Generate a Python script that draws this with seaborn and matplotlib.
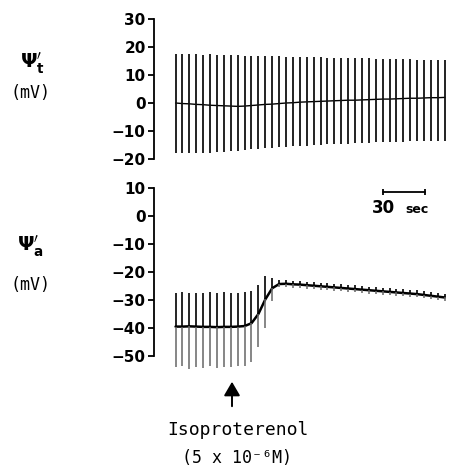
import numpy as np
import pandas as pd
import matplotlib
matplotlib.use("Agg")
import matplotlib.pyplot as plt
import seaborn as sns

# ---------------- data ----------------
n_beats = 40
beat_start_s = 15.4     # time of first beat (s)
beat_interval_s = 4.93  # time between beats (s)

# Psi_t trace (mV)
top_base = [0.0, -0.2, -0.3, -0.5, -0.6, -0.8, -0.9, -1.0, -1.1, -1.2,
            -1.1, -0.9, -0.7, -0.5, -0.4, -0.2, 0.0, 0.1, 0.3, 0.4,
            0.5, 0.6, 0.7, 0.8, 0.9, 1.0, 1.0, 1.1, 1.2, 1.3,
            1.4, 1.4, 1.5, 1.6, 1.7, 1.7, 1.8, 1.9, 1.9, 2.0]
top_peak = [17.5, 17.6, 17.4, 17.5, 17.3, 17.4, 17.2, 17.2, 17.0, 17.1,
            16.9, 16.9, 16.8, 16.8, 16.7, 16.7, 16.6, 16.5, 16.5, 16.4,
            16.3, 16.3, 16.2, 16.2, 16.1, 16.0, 16.0, 15.9, 15.9, 15.8,
            15.8, 15.7, 15.7, 15.6, 15.6, 15.5, 15.5, 15.4, 15.4, 15.3]
top_trough = [-18.0, -18.0, -17.9, -17.8, -17.7, -17.7, -17.6, -17.5, -17.3, -17.0,
              -16.8, -16.6, -16.4, -16.2, -16.0, -15.8, -15.6, -15.5, -15.3, -15.2,
              -15.0, -14.9, -14.8, -14.7, -14.6, -14.5, -14.4, -14.3, -14.2, -14.1,
              -14.0, -13.9, -13.9, -13.8, -13.7, -13.7, -13.6, -13.6, -13.5, -13.5]

# Psi_a trace (mV)
bot_base = [-39.5, -39.5, -39.4, -39.5, -39.6, -39.6, -39.7, -39.6, -39.6, -39.5,
            -39.3, -38.3, -35.0, -29.8, -25.8,
            -24.3, -24.2, -24.4, -24.5, -24.7, -24.9, -25.1, -25.3, -25.5, -25.7,
            -25.9, -26.1, -26.3, -26.5, -26.7, -26.9, -27.1, -27.3, -27.5, -27.7,
            -27.9, -28.2, -28.5, -28.8, -29.1]
bot_peak = [-27.5, -27.3, -27.6, -27.4, -27.5, -27.2, -27.6, -27.3, -27.5, -27.4,
            -27.2, -26.8, -24.5, -21.5, -22.0,
            -23.0, -22.9, -23.1, -23.2, -23.4, -23.6, -23.8, -24.0, -24.2, -24.4,
            -24.6, -24.8, -25.0, -25.2, -25.4, -25.6, -25.8, -26.0, -26.2, -26.4,
            -26.6, -26.9, -27.2, -27.5, -27.8]
bot_trough = [-54.0, -53.5, -54.5, -53.8, -54.2, -53.6, -54.4, -53.9, -54.1, -53.7,
              -53.5, -52.0, -46.8, -40.0, -30.5,
              -25.5, -25.4, -25.6, -25.7, -25.9, -26.1, -26.3, -26.5, -26.7, -26.9,
              -27.1, -27.3, -27.5, -27.7, -27.9, -28.1, -28.3, -28.5, -28.7, -28.9,
              -29.1, -29.4, -29.7, -30.0, -30.3]

top_ticks = [30, 20, 10, 0, -10, -20]
bot_ticks = [10, 0, -10, -20, -30, -40, -50]
scale_bar_s = [163.6, 193.6]

# ---------------- figure ----------------
sns.set_theme(style="white")
plt.rcParams["font.family"] = ["DejaVu Sans"]
plt.rcParams["axes.linewidth"] = 1.3

W, H = 450, 469
fig = plt.figure(figsize=(W / 100, H / 100), dpi=100)
fig.patch.set_facecolor("white")

x_left = 154 / W
x_width = (W - 154) / W
xlim = (0, (W - 154) / 1.4)

ax_t = fig.add_axes([x_left, (H - 159) / H, x_width, 140 / H])
ax_b = fig.add_axes([x_left, (H - 372.8) / H, x_width, 190.4 / H])

times = beat_start_s + beat_interval_s * np.arange(n_beats)

df_t = pd.DataFrame({"t": times, "base": top_base, "peak": top_peak, "trough": top_trough})
df_b = pd.DataFrame({"t": times, "base": bot_base, "peak": bot_peak, "trough": bot_trough})

# top trace
sns.lineplot(data=df_t, x="t", y="base", ax=ax_t, color="black", lw=1.0,
             estimator=None, sort=False)
ax_t.vlines(df_t["t"], df_t["trough"], df_t["peak"], color="#111111", lw=1.3)

# bottom trace
sns.lineplot(data=df_b, x="t", y="base", ax=ax_b, color="black", lw=1.8,
             estimator=None, sort=False)
ax_b.vlines(df_b["t"], df_b["base"], df_b["peak"], color="black", lw=1.2)
ax_b.vlines(df_b["t"], df_b["trough"], df_b["base"], color="#666666", lw=1.1)

for ax, ticks, ylim, bounds in [(ax_t, top_ticks, (-20, 30), (-20, 30)),
                                (ax_b, bot_ticks, (-56, 12), (-50, 10))]:
    ax.set_xlim(*xlim)
    ax.set_ylim(*ylim)
    ax.set_yticks(ticks)
    ax.set_yticklabels([str(v).replace("-", "\u2212") for v in ticks],
                       fontweight="bold")
    ax.set_xticks([])
    ax.set_xlabel("")
    ax.set_ylabel("")
    for s in ["top", "right", "bottom"]:
        ax.spines[s].set_visible(False)
    ax.spines["left"].set_color("black")
    ax.spines["left"].set_bounds(*bounds)
    ax.tick_params(axis="y", left=True, direction="out", length=4, width=1.3,
                   pad=2.0, labelsize=11, colors="black")
    ax.patch.set_alpha(0)

# scale bar
ax_b.plot(scale_bar_s, [8.6, 8.6], color="black", lw=1.3)
ax_b.vlines(scale_bar_s, 7.6, 9.6, color="black", lw=1.3)
ax_b.text(155.7, 1.1, "30", fontsize=12, fontweight="bold", ha="left",
          va="baseline", color="black")
ax_b.text(179.3, 1.1, "sec", fontsize=9, fontweight="bold", ha="left",
          va="baseline", color="black")

# side labels
fig.text(32 / W, 1 - 63 / H, r"$\mathbf{\Psi}^{\prime}_{\mathbf{t}}$", fontsize=14,
         ha="center", va="center", color="black")
fig.text(31 / W, 1 - 93 / H, "(mV)", family="DejaVu Sans Mono", fontsize=12,
         ha="center", va="center", color="black")
fig.text(30 / W, 1 - 246 / H, r"$\mathbf{\Psi}^{\prime}_{\mathbf{a}}$", fontsize=14,
         ha="center", va="center", color="black")
fig.text(31 / W, 1 - 285 / H, "(mV)", family="DejaVu Sans Mono", fontsize=12,
         ha="center", va="center", color="black")

# arrow + drug annotation
fig.patches.append(matplotlib.patches.FancyArrowPatch(
    (232 / W, 1 - 409 / H), (232 / W, 1 - 379 / H), transform=fig.transFigure,
    arrowstyle="-|>,head_length=0.6,head_width=0.35", mutation_scale=14,
    color="black", lw=1.4))
fig.text(238 / W, 1 - 430 / H, "Isoproterenol", family="DejaVu Sans Mono",
         fontsize=13, ha="center", va="center", color="black")
fig.text(237 / W, 1 - 458 / H, "(5 x 10\u207b\u2076M)", family="DejaVu Sans Mono",
         fontsize=12, ha="center", va="center", color="black")

fig.savefig("out.png", dpi=100, facecolor="white")
